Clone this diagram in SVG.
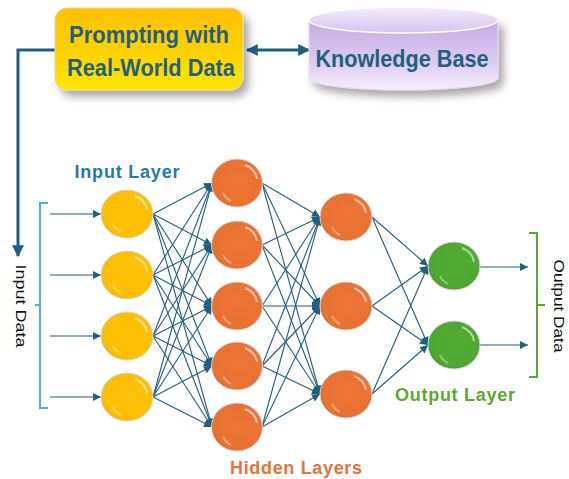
<svg xmlns="http://www.w3.org/2000/svg" width="569" height="479" viewBox="0 0 569 479">
<style>
.e{stroke:#1F5F80;stroke-width:1.1;fill:none;marker-end:url(#ah)}
.big{stroke:#1F5F80;stroke-width:3;fill:none}
.nd{stroke:#D6D6D6;stroke-width:1}
.lbl{font-family:"Liberation Sans",Arial,sans-serif;font-weight:bold}
.side{font-family:"Liberation Sans",Arial,sans-serif;font-size:15px;fill:#111}
</style>
<defs>
<marker id="ah" viewBox="0 0 10 10" refX="10" refY="5" markerWidth="9" markerHeight="8" markerUnits="userSpaceOnUse" orient="auto"><path d="M0,0 L10,5 L0,10 z" fill="#1F5F80"/></marker>
<marker id="ahB" viewBox="0 0 10 10" refX="9" refY="5" markerWidth="13" markerHeight="12" markerUnits="userSpaceOnUse" orient="auto-start-reverse"><path d="M0,0 L10,5 L0,10 z" fill="#1F5F80"/></marker>
<radialGradient id="gGold" cx="0.55" cy="0.45" r="0.6"><stop offset="0" stop-color="#FFC20A"/><stop offset="0.85" stop-color="#FFBE00"/><stop offset="1" stop-color="#EFAE00"/></radialGradient>
<radialGradient id="gOr" cx="0.55" cy="0.45" r="0.6"><stop offset="0" stop-color="#EC7636"/><stop offset="0.85" stop-color="#E97132"/><stop offset="1" stop-color="#DA6428"/></radialGradient>
<radialGradient id="gGr" cx="0.55" cy="0.45" r="0.6"><stop offset="0" stop-color="#52AB32"/><stop offset="0.85" stop-color="#4EA72E"/><stop offset="1" stop-color="#3F9424"/></radialGradient>
<linearGradient id="gBox" x1="0" y1="0" x2="0" y2="1"><stop offset="0" stop-color="#FFC000"/><stop offset="0.6" stop-color="#FFD400"/><stop offset="1" stop-color="#FFE600"/></linearGradient>
<linearGradient id="gCyl" x1="0" y1="0" x2="0" y2="1"><stop offset="0" stop-color="#C5ABE4"/><stop offset="0.6" stop-color="#DCCBF0"/><stop offset="1" stop-color="#F6F0FC"/></linearGradient>
<linearGradient id="gTop" x1="0" y1="0" x2="0" y2="1"><stop offset="0" stop-color="#F4EEFB"/><stop offset="1" stop-color="#D5C2EE"/></linearGradient>
<filter id="sh" x="-20%" y="-20%" width="150%" height="160%"><feDropShadow dx="5" dy="6" stdDeviation="4" flood-color="#000" flood-opacity="0.35"/></filter>
<g id="hl"><path d="M8,-18 A20,18 0 0 1 20,-4" stroke="#FFFFFF" stroke-opacity="0.55" stroke-width="2" fill="none"/><path d="M-14,10 A18,16 0 0 0 -6,18" stroke="#FFFFFF" stroke-opacity="0.35" stroke-width="2" fill="none"/></g>
</defs>

<g id="connectors">
<path class="big" d="M55,50 H18 V256" marker-end="url(#ahB)"/>
<line class="big" x1="247" y1="50" x2="309" y2="50" marker-start="url(#ahB)" marker-end="url(#ahB)"/>
<line class="e" x1="50" y1="214" x2="101" y2="214"/>
<line class="e" x1="50" y1="275" x2="101" y2="275"/>
<line class="e" x1="50" y1="336" x2="101" y2="336"/>
<line class="e" x1="50" y1="397" x2="101" y2="397"/>
<line class="e" x1="153" y1="214" x2="212" y2="183"/><line class="e" x1="153" y1="214" x2="212" y2="245"/><line class="e" x1="153" y1="214" x2="212" y2="306"/><line class="e" x1="153" y1="214" x2="212" y2="366"/><line class="e" x1="153" y1="214" x2="212" y2="427"/>
<line class="e" x1="153" y1="275" x2="212" y2="183"/><line class="e" x1="153" y1="275" x2="212" y2="245"/><line class="e" x1="153" y1="275" x2="212" y2="306"/><line class="e" x1="153" y1="275" x2="212" y2="366"/><line class="e" x1="153" y1="275" x2="212" y2="427"/>
<line class="e" x1="153" y1="336" x2="212" y2="183"/><line class="e" x1="153" y1="336" x2="212" y2="245"/><line class="e" x1="153" y1="336" x2="212" y2="306"/><line class="e" x1="153" y1="336" x2="212" y2="366"/><line class="e" x1="153" y1="336" x2="212" y2="427"/>
<line class="e" x1="153" y1="397" x2="212" y2="183"/><line class="e" x1="153" y1="397" x2="212" y2="245"/><line class="e" x1="153" y1="397" x2="212" y2="306"/><line class="e" x1="153" y1="397" x2="212" y2="366"/><line class="e" x1="153" y1="397" x2="212" y2="427"/>
<line class="e" x1="262" y1="183" x2="320" y2="217"/><line class="e" x1="262" y1="183" x2="320" y2="306"/><line class="e" x1="262" y1="183" x2="320" y2="394"/>
<line class="e" x1="262" y1="245" x2="320" y2="217"/><line class="e" x1="262" y1="245" x2="320" y2="306"/><line class="e" x1="262" y1="245" x2="320" y2="394"/>
<line class="e" x1="262" y1="306" x2="320" y2="217"/><line class="e" x1="262" y1="306" x2="320" y2="306"/><line class="e" x1="262" y1="306" x2="320" y2="394"/>
<line class="e" x1="262" y1="366" x2="320" y2="217"/><line class="e" x1="262" y1="366" x2="320" y2="306"/><line class="e" x1="262" y1="366" x2="320" y2="394"/>
<line class="e" x1="262" y1="427" x2="320" y2="217"/><line class="e" x1="262" y1="427" x2="320" y2="306"/><line class="e" x1="262" y1="427" x2="320" y2="394"/>
<line class="e" x1="372" y1="217" x2="428" y2="266"/><line class="e" x1="372" y1="217" x2="428" y2="345"/>
<line class="e" x1="372" y1="306" x2="428" y2="266"/><line class="e" x1="372" y1="306" x2="428" y2="345"/>
<line class="e" x1="372" y1="394" x2="428" y2="266"/><line class="e" x1="372" y1="394" x2="428" y2="345"/>
<line class="e" x1="480" y1="267" x2="528" y2="267"/>
<line class="e" x1="480" y1="345" x2="528" y2="345"/>
</g>

<g id="prompt-box">
<rect x="55" y="8" width="188" height="82" rx="12" fill="url(#gBox)" stroke="#E8D8A0" stroke-width="1" filter="url(#sh)"/>
<text class="lbl" x="149" y="43" font-size="24" fill="#1F6080" text-anchor="middle" textLength="160" lengthAdjust="spacingAndGlyphs">Prompting with</text>
<text class="lbl" x="151" y="76" font-size="24" fill="#1F6080" text-anchor="middle" textLength="168" lengthAdjust="spacingAndGlyphs">Real-World Data</text>
</g>

<g id="knowledge-base">
<path d="M309,20 V78 A94.5,12 0 0 0 498,78 V20 Z" fill="url(#gCyl)" stroke="#E6DDF2" stroke-width="1" filter="url(#sh)"/>
<ellipse cx="403.5" cy="20" rx="94.5" ry="13" fill="url(#gTop)" stroke="#FFFFFF" stroke-width="1.5"/>
<text class="lbl" x="402" y="67" font-size="24" fill="#1F6080" text-anchor="middle" textLength="173" lengthAdjust="spacingAndGlyphs">Knowledge Base</text>
</g>

<g id="input-bracket"><path d="M48,203 H40 V408 H48 M40,305 H35" stroke="#4DAEDF" stroke-width="2" fill="none"/></g>
<g id="output-bracket"><path d="M529,233 H537 V377 H529 M537,305 H545" stroke="#5AAA2E" stroke-width="2" fill="none"/></g>

<g id="input-data"><text class="side" transform="translate(16,306) rotate(90)" text-anchor="middle" textLength="83" lengthAdjust="spacingAndGlyphs">Input Data</text></g>
<g id="output-data"><text class="side" transform="translate(554,306) rotate(90)" text-anchor="middle" textLength="93" lengthAdjust="spacingAndGlyphs">Output Data</text></g>

<g id="input-layer">
<ellipse class="nd" cx="127" cy="214" rx="26" ry="24" fill="url(#gGold)"/><use href="#hl" x="127" y="214"/>
<ellipse class="nd" cx="127" cy="275" rx="26" ry="24" fill="url(#gGold)"/><use href="#hl" x="127" y="275"/>
<ellipse class="nd" cx="127" cy="336" rx="26" ry="24" fill="url(#gGold)"/><use href="#hl" x="127" y="336"/>
<ellipse class="nd" cx="127" cy="397" rx="26" ry="24" fill="url(#gGold)"/><use href="#hl" x="127" y="397"/>
<text class="lbl" x="127" y="178" font-size="18" fill="#1F7BA8" text-anchor="middle" textLength="105" lengthAdjust="spacing">Input Layer</text>
</g>

<g id="hidden-layer-1">
<ellipse class="nd" cx="237" cy="183" rx="25.5" ry="24" fill="url(#gOr)"/><use href="#hl" x="237" y="183"/>
<ellipse class="nd" cx="237" cy="245" rx="25.5" ry="24" fill="url(#gOr)"/><use href="#hl" x="237" y="245"/>
<ellipse class="nd" cx="237" cy="306" rx="25.5" ry="24" fill="url(#gOr)"/><use href="#hl" x="237" y="306"/>
<ellipse class="nd" cx="237" cy="366" rx="25.5" ry="24" fill="url(#gOr)"/><use href="#hl" x="237" y="366"/>
<ellipse class="nd" cx="237" cy="427" rx="25.5" ry="24" fill="url(#gOr)"/><use href="#hl" x="237" y="427"/>
</g>

<g id="hidden-layer-2">
<ellipse class="nd" cx="346" cy="217" rx="26" ry="24" fill="url(#gOr)"/><use href="#hl" x="346" y="217"/>
<ellipse class="nd" cx="346" cy="306" rx="26" ry="24" fill="url(#gOr)"/><use href="#hl" x="346" y="306"/>
<ellipse class="nd" cx="346" cy="394" rx="26" ry="24" fill="url(#gOr)"/><use href="#hl" x="346" y="394"/>
<text class="lbl" x="296" y="474" font-size="18" fill="#E8733A" text-anchor="middle" textLength="132" lengthAdjust="spacing">Hidden Layers</text>
</g>

<g id="output-layer">
<ellipse class="nd" cx="454" cy="266" rx="26" ry="24" fill="url(#gGr)"/><use href="#hl" x="454" y="266"/>
<ellipse class="nd" cx="454" cy="345" rx="26" ry="24" fill="url(#gGr)"/><use href="#hl" x="454" y="345"/>
<text class="lbl" x="455" y="401" font-size="18" fill="#5AAA2E" text-anchor="middle" textLength="120" lengthAdjust="spacing">Output Layer</text>
</g>
</svg>
